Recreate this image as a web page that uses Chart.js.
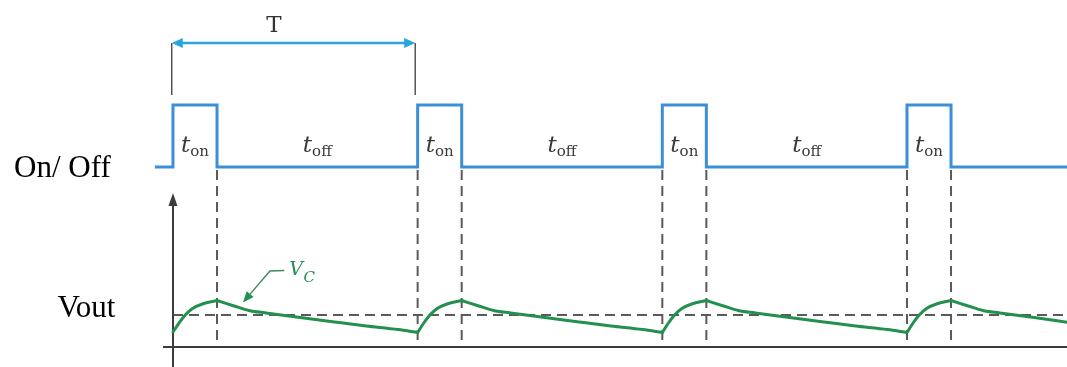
<!DOCTYPE html>
<html><head><meta charset="utf-8">
<script src="https://cdn.jsdelivr.net/npm/chart.js@4.4.0/dist/chart.umd.min.js"></script>
<style>html,body{margin:0;padding:0;background:#fff;overflow:hidden;} #wrap{width:1067px;height:367px;position:relative;}</style>
</head><body><div id="wrap"><canvas id="c" width="1067" height="367"></canvas></div>
<script>
// ---------- data (time in units where one period T = 10) ----------
const onOffTimes  = [-0.74, 0, 1.8, 10, 11.8, 20, 21.8, 30, 31.8, 36.6];
const onOffStates = [0, 1, 0, 1, 0, 1, 0, 1, 0, 0];

const vcTimes = [
  0, 0.25, 0.5, 0.8, 1.2, 1.8, 2.5, 3.1, 3.8, 5.2, 6.6, 7.9, 9.2,
  10, 10.25, 10.5, 10.8, 11.2, 11.8, 12.5, 13.1, 13.8, 15.2, 16.6, 17.9, 19.2,
  20, 20.25, 20.5, 20.8, 21.2, 21.8, 22.5, 23.1, 23.8, 25.2, 26.6, 27.9, 29.2,
  30, 30.25, 30.5, 30.8, 31.2, 31.8, 32.5, 33.1, 33.8, 35.2, 36.6
];
const vcValues = [
  1.5, 2.4, 3.2, 3.85, 4.3, 4.65, 4.1, 3.65, 3.4, 2.95, 2.5, 2.1, 1.75,
  1.45, 2.4, 3.2, 3.85, 4.3, 4.65, 4.1, 3.65, 3.4, 2.95, 2.5, 2.1, 1.75,
  1.45, 2.4, 3.2, 3.85, 4.3, 4.65, 4.1, 3.65, 3.4, 2.95, 2.5, 2.1, 1.75,
  1.45, 2.4, 3.2, 3.85, 4.3, 4.65, 4.1, 3.65, 3.4, 2.95, 2.45
];
const vcAverage   = 3.2;
const switchEdges = [1.8, 10, 11.8, 20, 21.8, 30, 31.8];
const periodSpan  = [-0.05, 9.9];
const onLabelTimes  = [0.9, 10.9, 20.9, 30.9];
const offLabelTimes = [5.9, 15.9, 25.9];
const rowLabels = ['On/ Off', 'Vout'];
const periodLabel = 'T';

// ---------- helpers ----------
const BLUE = '#3b8fd8', CYAN = '#2aa4dd', GREEN = '#23904f', DARK = '#3c3c3c', DASH = '#5a5a5a';

function monotoneRuns(xs, ys) {
  const runs = []; let cur = [{x: xs[0], y: ys[0]}]; let dir = 0;
  for (let i = 1; i < xs.length; i++) {
    const d = Math.sign(ys[i] - ys[i - 1]);
    if (dir !== 0 && d !== 0 && d !== dir) { runs.push(cur); cur = [{x: xs[i - 1], y: ys[i - 1]}]; }
    if (d !== 0) dir = d;
    cur.push({x: xs[i], y: ys[i]});
  }
  runs.push(cur);
  return runs;
}

function arrowHead(ctx, tx, ty, ang, len, hw, color) {
  ctx.save();
  ctx.translate(tx, ty); ctx.rotate(ang);
  ctx.fillStyle = color;
  ctx.beginPath(); ctx.moveTo(0, 0); ctx.lineTo(-len, -hw); ctx.lineTo(-len, hw); ctx.closePath();
  ctx.fill();
  ctx.restore();
}

function subText(ctx, main, sub, cx, base, mainFont, subFont, color, subDrop) {
  ctx.font = mainFont; const w1 = ctx.measureText(main).width;
  ctx.font = subFont;  const w2 = ctx.measureText(sub).width;
  const x0 = cx - (w1 + w2) / 2;
  ctx.fillStyle = color; ctx.textBaseline = 'alphabetic'; ctx.textAlign = 'left';
  ctx.font = mainFont; ctx.fillText(main, x0, base);
  ctx.font = subFont;  ctx.fillText(sub, x0 + w1, base + subDrop);
}

const diagram = {
  id: 'diagram',
  beforeDatasetsDraw(chart) {
    const {ctx, scales: {x, ySig, yV}} = chart;
    ctx.save();
    ctx.lineCap = 'butt';
    // dashed guides
    ctx.strokeStyle = DASH; ctx.lineWidth = 2; ctx.setLineDash([10, 6]);
    ctx.beginPath();
    ctx.moveTo(x.getPixelForValue(0), yV.getPixelForValue(vcAverage));
    ctx.lineTo(x.getPixelForValue(x.max), yV.getPixelForValue(vcAverage));
    ctx.stroke();
    switchEdges.forEach(t => {
      const px = x.getPixelForValue(t);
      ctx.beginPath();
      ctx.moveTo(px, ySig.getPixelForValue(0) + 3);
      ctx.lineTo(px, yV.getPixelForValue(0));
      ctx.stroke();
    });
    ctx.setLineDash([]);
    // Vout axes
    ctx.strokeStyle = DARK; ctx.lineWidth = 2;
    const y0 = yV.getPixelForValue(0), x0 = x.getPixelForValue(0);
    ctx.beginPath(); ctx.moveTo(x.getPixelForValue(-0.41), y0); ctx.lineTo(x.getPixelForValue(x.max), y0); ctx.stroke();
    const yTop = yV.getPixelForValue(15.4);
    ctx.beginPath(); ctx.moveTo(x0, yV.getPixelForValue(yV.min)); ctx.lineTo(x0, yTop + 8); ctx.stroke();
    arrowHead(ctx, x0, yTop, -Math.PI / 2, 13, 4.5, DARK);
    ctx.restore();
  },
  afterDatasetsDraw(chart) {
    const {ctx, scales: {x, ySig, yV}} = chart;
    ctx.save();
    // period arrow T
    const ay = ySig.getPixelForValue(2.0);
    const ax1 = x.getPixelForValue(periodSpan[0]), ax2 = x.getPixelForValue(periodSpan[1]);
    ctx.strokeStyle = DARK; ctx.lineWidth = 1.3;
    [ax1, ax2].forEach(px => { ctx.beginPath(); ctx.moveTo(px, ay); ctx.lineTo(px, ySig.getPixelForValue(1.16)); ctx.stroke(); });
    ctx.strokeStyle = CYAN; ctx.lineWidth = 2.5;
    ctx.beginPath(); ctx.moveTo(ax1 + 6, ay); ctx.lineTo(ax2 - 6, ay); ctx.stroke();
    arrowHead(ctx, ax1, ay, Math.PI, 11, 5, CYAN);
    arrowHead(ctx, ax2, ay, 0, 11, 5, CYAN);
    ctx.fillStyle = '#333'; ctx.font = '23px "DejaVu Serif"'; ctx.textAlign = 'center'; ctx.textBaseline = 'alphabetic';
    ctx.fillText(periodLabel, x.getPixelForValue(4.13), ySig.getPixelForValue(2.18));

    // t_on / t_off
    onLabelTimes.forEach(t => subText(ctx, 't', 'on', x.getPixelForValue(t), ySig.getPixelForValue(0.24),
      'italic 23px "DejaVu Serif"', '15px "DejaVu Serif"', '#3a3a3a', 4));
    offLabelTimes.forEach(t => subText(ctx, 't', 'off', x.getPixelForValue(t), ySig.getPixelForValue(0.24),
      'italic 23px "DejaVu Serif"', '15px "DejaVu Serif"', '#3a3a3a', 4));

    // row labels
    ctx.fillStyle = '#000'; ctx.font = '31px "Liberation Serif"'; ctx.textAlign = 'right'; ctx.textBaseline = 'alphabetic';
    ctx.fillText(rowLabels[0], x.getPixelForValue(-2.54), ySig.getPixelForValue(-0.16));
    ctx.fillText(rowLabels[1], x.getPixelForValue(-2.35), yV.getPixelForValue(3.0));

    // V_C leader and label
    const p1 = [x.getPixelForValue(4.55), yV.getPixelForValue(7.65)];
    const p2 = [x.getPixelForValue(3.96), yV.getPixelForValue(7.6)];
    const p3 = [x.getPixelForValue(2.86), yV.getPixelForValue(4.45)];
    const ang = Math.atan2(p3[1] - p2[1], p3[0] - p2[0]);
    ctx.strokeStyle = '#3f8a5c'; ctx.lineWidth = 1.4;
    ctx.beginPath(); ctx.moveTo(p1[0], p1[1]); ctx.lineTo(p2[0], p2[1]);
    ctx.lineTo(p3[0] - Math.cos(ang) * 8, p3[1] - Math.sin(ang) * 8); ctx.stroke();
    arrowHead(ctx, p3[0], p3[1], ang, 11, 4.5, GREEN);
    ctx.fillStyle = GREEN; ctx.textAlign = 'left';
    ctx.font = 'italic 19px "DejaVu Serif"'; ctx.fillText('V', x.getPixelForValue(4.75), yV.getPixelForValue(7.2));
    ctx.font = 'italic 15px "DejaVu Serif"'; ctx.fillText('C', x.getPixelForValue(5.33), yV.getPixelForValue(6.5));
    ctx.restore();
  }
};

const vcDatasets = monotoneRuns(vcTimes, vcValues).map(run => ({
  type: 'line', data: run, yAxisID: 'yV', borderColor: GREEN, borderWidth: 3,
  pointRadius: 0, cubicInterpolationMode: 'monotone', borderCapStyle: 'round', borderJoinStyle: 'round'
}));

new Chart(document.getElementById('c'), {
  type: 'line',
  data: {
    datasets: [
      { data: onOffTimes.map((t, i) => ({x: t, y: onOffStates[i]})), yAxisID: 'ySig', stepped: true,
        borderColor: BLUE, borderWidth: 3, pointRadius: 0, borderJoinStyle: 'miter' },
      ...vcDatasets
    ]
  },
  options: {
    responsive: false, animation: false, devicePixelRatio: 1,
    layout: { padding: 0 },
    plugins: { legend: { display: false }, tooltip: { enabled: false } },
    scales: {
      x:    { type: 'linear', min: -7.07, max: 36.54, display: false },
      ySig: { type: 'linear', min: -3.226, max: 2.694, display: false },
      yV:   { type: 'linear', min: -2.0, max: 34.7, display: false }
    }
  },
  plugins: [diagram]
});
</script>
</body></html>
